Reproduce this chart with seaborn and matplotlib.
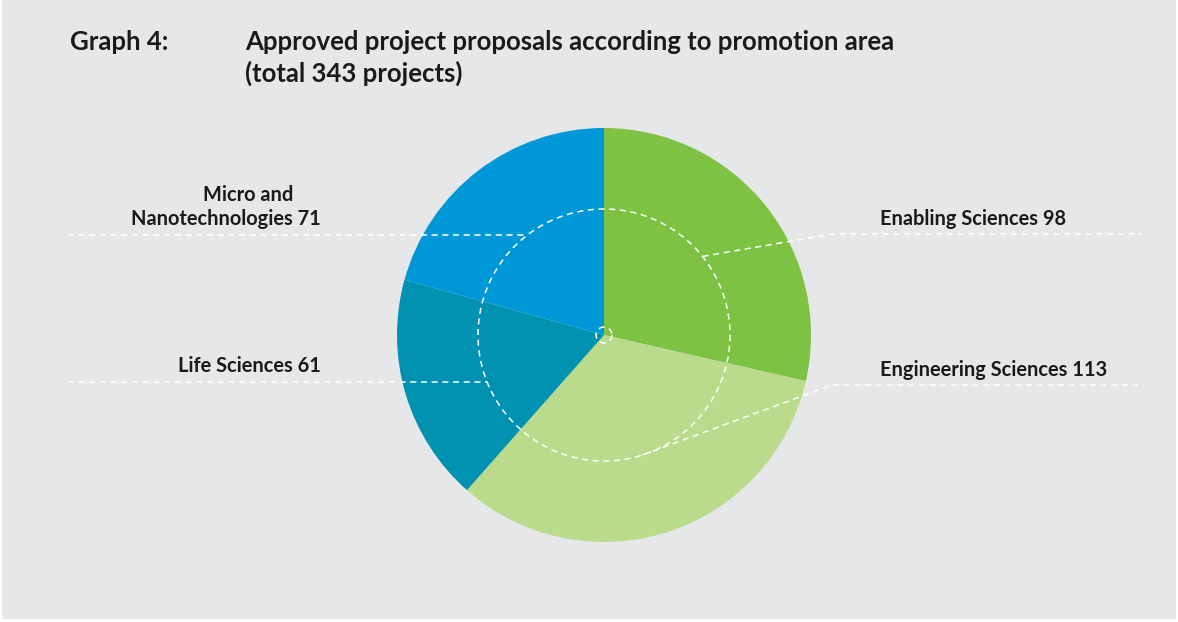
import numpy as np
import matplotlib
matplotlib.use("Agg")
import matplotlib.pyplot as plt
import seaborn as sns

# Approved project proposals per promotion area
areas = ["Enabling Sciences", "Engineering Sciences", "Life Sciences", "Micro and\nNanotechnologies"]
counts = [98, 113, 61, 71]
colors = ["#7dc242", "#badb8b", "#0092b0", "#0097d7"]

sns.set_theme(style="white")
plt.rcParams["font.family"] = ["Lato", "DejaVu Sans"]

W, H = 1178, 622
bg = "#e6e7e8"
fig = plt.figure(figsize=(W / 100, H / 100), dpi=100)
fig.patch.set_facecolor("white")
ax = fig.add_axes([0, 0, 1, 1])

# grey panel
ax.add_patch(plt.Rectangle((2, 0), W - 4, H - 3, facecolor=bg, edgecolor="none", zorder=0))

cx, cy, R = 604, 335, 207
r_inner = 126

# pie is drawn in an inverted y axis: counterclockwise in data = clockwise on screen
wedges, _ = ax.pie(counts, colors=colors, startangle=-90, counterclock=True,
                   center=(cx, cy), radius=R, frame=True,
                   wedgeprops=dict(linewidth=0, antialiased=True))
ax.set_xlim(0, W)
ax.set_ylim(H, 0)
ax.set_aspect("equal")
ax.axis("off")

dash = dict(color="white", lw=1.1, ls=(0, (4, 3)), zorder=5)
t = np.linspace(0, 2 * np.pi, 400)
ax.plot(cx + r_inner * np.cos(t), cy + r_inner * np.sin(t), **dash)
ax.plot(cx + 8 * np.cos(t), cy + 8 * np.sin(t), **dash)

def mid_point(w, r):
    a = np.deg2rad((w.theta1 + w.theta2) / 2)
    return cx + r * np.cos(a), cy + r * np.sin(a)

lab_font = dict(fontsize=14.4, fontweight="bold", color="#1a1a1a", zorder=6)

# right-hand labels: angled leader, then horizontal rule
for w, name, n, ly in [(wedges[0], areas[0], counts[0], 234), (wedges[1], areas[1], counts[1], 385)]:
    px, py = mid_point(w, r_inner)
    ax.plot([px, 832, 1142], [py, ly, ly], **dash)
    ax.text(880, ly - 9, f"{name} {n}", ha="left", va="baseline", **lab_font)

# left-hand labels: horizontal rule ending on the inner ring
for name, n, ly in [(areas[3], counts[3], 235), (areas[2], counts[2], 382)]:
    ex = cx - np.sqrt(r_inner ** 2 - (ly - cy) ** 2)
    ax.plot([68, ex], [ly, ly], **dash)
    lines = f"{name} {n}".split("\n")
    ax.text(321, ly - 10, lines[-1], ha="right", va="baseline", **lab_font)
    if len(lines) > 1:
        ax.text(248, ly - 34, lines[0], ha="center", va="baseline", **lab_font)

title_font = dict(fontsize=18.5, fontweight="bold", color="#1a1a1a", va="baseline")
ax.text(70, 50, "Graph 4:", ha="left", **title_font)
ax.text(245, 50, "Approved project proposals according to promotion area", ha="left", **title_font)
ax.text(245, 82, f"(total {sum(counts)} projects)", ha="left", **title_font)

fig.savefig("out.png", dpi=100, facecolor=fig.get_facecolor())
